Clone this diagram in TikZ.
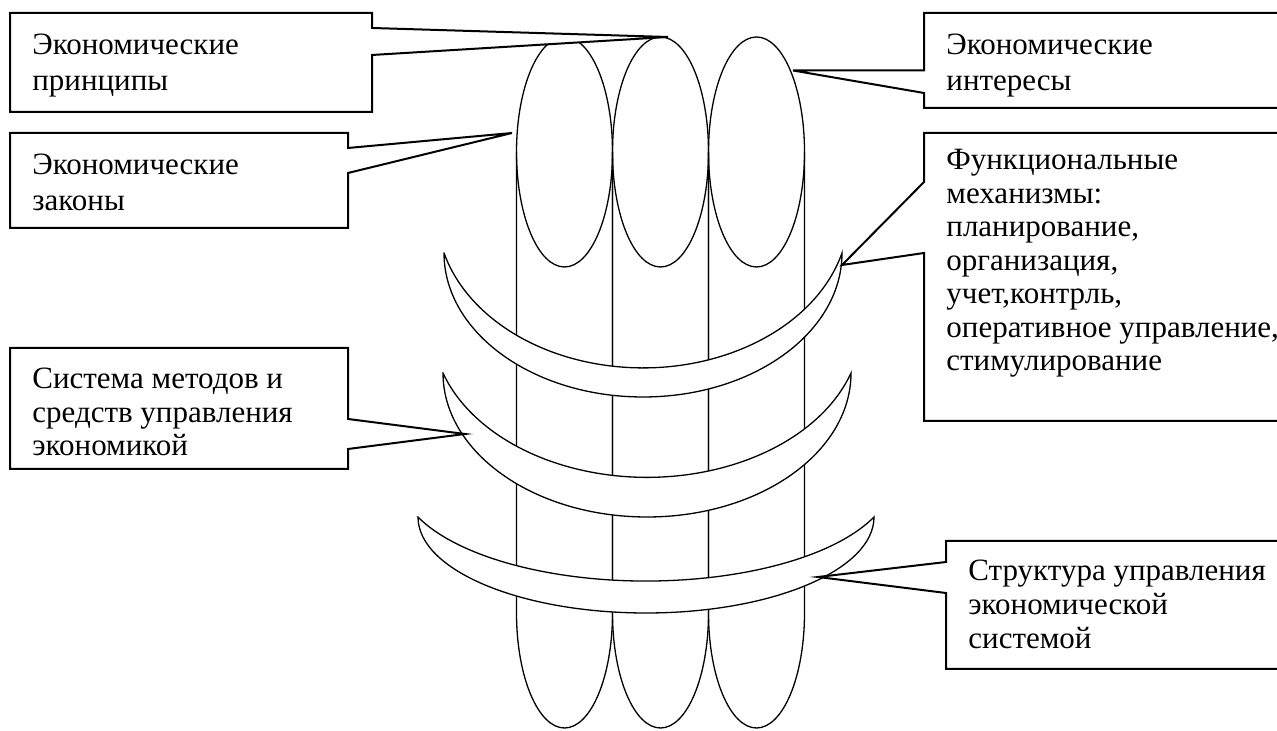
\documentclass[tikz,border=0pt]{standalone}
\usepackage{fontspec}
\setmainfont{Liberation Serif}

\begin{document}
\begin{tikzpicture}[x=0.5pt, y=0.5pt,
  every node/.style={font=\fontsize{15.5}{18}\selectfont, inner sep=0pt, anchor=base west},
  bubble/.style={draw=black, line width=1pt, fill=white, line join=miter},
  stick/.style={draw=black, line width=0.65pt},
  crescent/.style={draw=black, line width=0.65pt, fill=white}]
  \useasboundingbox (0,0) rectangle (1277,731);
  \clip (0,0) rectangle (1277,731);

  % Three sticks of the bundle
  \foreach \cx in {564.5, 660.5, 756.5} {
    \draw[stick] (\cx,579) ellipse [x radius=48, y radius=115];
    \draw[stick] (\cx-48,579) -- (\cx-48,118)
      arc[start angle=180, end angle=360, x radius=48, y radius=115] -- (\cx+48,579);
  }

  % Bands round the bundle
  \draw[crescent] (444,478) arc[start angle=180, end angle=360, x radius=199, y radius=144]
    arc[start angle=-15, end angle=-165, x radius=206, y radius=155] -- cycle;
  \draw[crescent] (443,358) arc[start angle=180, end angle=360, x radius=204, y radius=144]
    arc[start angle=-18, end angle=-162, x radius=214.5, y radius=151] -- cycle;
  \draw[crescent] (418,214) arc[start angle=180, end angle=360, x radius=228, y radius=96]
    arc[start angle=-22.6, end angle=-157.4, x radius=247, y radius=104] -- cycle;

  % Pointer tips
  \coordinate (tipPrinc) at (668,694);
  \coordinate (tipLaws) at (512,598);
  \coordinate (tipInter) at (793,660.5);
  \coordinate (tipMech) at (842,466);
  \coordinate (tipStruct) at (818,154);
  \coordinate (tipMeth) at (465,297);

  % Economic principles
  \draw[bubble] (10,718) -- (372,718) -- (372,703) -- (tipPrinc) -- (372,676)
    -- (372,619) -- (10,619) -- cycle;
  \node (princA) at (32,676) {Экономические};
  \node (princB) at (32,640) {принципы};

  % Economic laws
  \draw[bubble] (10,598) -- (348,598) -- (348,583) -- (tipLaws) -- (348,558)
    -- (348,503) -- (10,503) -- cycle;
  \node (lawsA) at (32,556) {Экономические};
  \node (lawsB) at (32,520) {законы};

  % Economic interests
  \draw[bubble] (1290,718) -- (924,718) -- (924,660.5) -- (tipInter) -- (924,638)
    -- (924,623) -- (1290,623) -- cycle;
  \node (interA) at (946,676) {Экономические};
  \node (interB) at (946,640) {интересы};

  % Functional mechanisms
  \draw[bubble] (1290,598) -- (924,598) -- (924,549) -- (tipMech) -- (924,478)
    -- (924,310) -- (1290,310) -- cycle;
  \foreach \txt [count=\i] in {Функциональные, механизмы:, {планирование,},
      {организация,}, {учет,контрль,}, {оперативное управление,}, стимулирование}
    \node (mech\i) at (946,594.5-33.5*\i) {\txt};

  % Management structure
  \draw[bubble] (1290,190) -- (946,190) -- (946,169) -- (tipStruct) -- (946,138)
    -- (946,62) -- (1290,62) -- cycle;
  \node (structA) at (968,150) {Структура управления};
  \node (structB) at (968,116) {экономической};
  \node (structC) at (968,82) {системой};

  % Methods and means
  \draw[bubble] (10,383) -- (348,383) -- (348,312) -- (tipMeth) -- (348,282)
    -- (348,262) -- (10,262) -- cycle;
  \node (methA) at (32,342) {Система методов и};
  \node (methB) at (32,308.5) {средств управления};
  \node (methC) at (32,275) {экономикой};
\end{tikzpicture}
\end{document}
